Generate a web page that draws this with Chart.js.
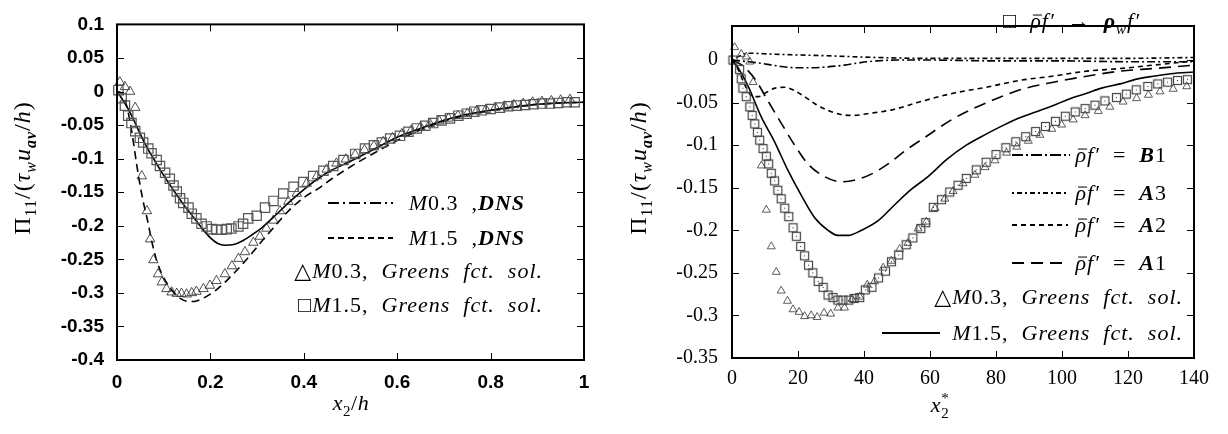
<!DOCTYPE html>
<html>
<head>
<meta charset="utf-8">
<script src="https://cdn.jsdelivr.net/npm/chart.js"></script>
<style>
  html, body { margin: 0; padding: 0; background: #fff; }
  #wrap { position: relative; width: 1228px; height: 434px; background: #fff; }
  canvas { position: absolute; top: 0; }
  #leftChart { left: 0; }
  #rightChart { left: 614px; }
</style>
</head>
<body>
<div id="wrap">
  <canvas id="leftChart" width="614" height="434"></canvas>
  <canvas id="rightChart" width="614" height="434"></canvas>
</div>
<script>
// ---- left panel: Pi_11 vs x2/h ----
const xLeftSolid = [0, 0.01, 0.02, 0.03, 0.045, 0.06, 0.08, 0.1, 0.12, 0.14, 0.16, 0.18, 0.2, 0.215, 0.23, 0.25, 0.27, 0.29, 0.31, 0.34, 0.37, 0.4, 0.43, 0.46, 0.5, 0.55, 0.6, 0.65, 0.7, 0.75, 0.8, 0.85, 0.9, 0.95, 1];
const yLeftSolid = [0, -0.01, -0.021, -0.034, -0.056, -0.078, -0.102, -0.125, -0.146, -0.166, -0.184, -0.202, -0.218, -0.226, -0.229, -0.228, -0.222, -0.213, -0.203, -0.184, -0.164, -0.146, -0.13, -0.117, -0.104, -0.086, -0.068, -0.055, -0.043, -0.034, -0.028, -0.023, -0.019, -0.017, -0.016];

const xLeftDashed = [0, 0.012, 0.02, 0.028, 0.035, 0.042, 0.05, 0.058, 0.066, 0.075, 0.085, 0.095, 0.11, 0.125, 0.14, 0.155, 0.17, 0.19, 0.21, 0.23, 0.25, 0.27, 0.29, 0.31, 0.33, 0.35, 0.37, 0.4, 0.43, 0.46, 0.5, 0.55, 0.6, 0.65, 0.7, 0.75, 0.8, 0.85, 0.9, 0.95, 1];
const yLeftDashed = [0, -0.003, -0.02, -0.045, -0.075, -0.108, -0.142, -0.17, -0.194, -0.225, -0.252, -0.27, -0.289, -0.302, -0.31, -0.313, -0.312, -0.306, -0.297, -0.285, -0.271, -0.256, -0.24, -0.223, -0.207, -0.191, -0.176, -0.158, -0.145, -0.13, -0.112, -0.092, -0.073, -0.057, -0.044, -0.035, -0.028, -0.023, -0.019, -0.017, -0.016];

const xLeftTri = [0.006, 0.017, 0.028, 0.039, 0.053, 0.064, 0.071, 0.078, 0.088, 0.096, 0.106, 0.117, 0.128, 0.138, 0.149, 0.16, 0.17, 0.185, 0.199, 0.213, 0.231, 0.246, 0.26, 0.274, 0.292, 0.306, 0.32, 0.335, 0.349, 0.367, 0.385, 0.406, 0.428, 0.449, 0.47, 0.49, 0.51, 0.53, 0.55, 0.57, 0.59, 0.61, 0.63, 0.65, 0.67, 0.69, 0.71, 0.73, 0.75, 0.77, 0.79, 0.81, 0.83, 0.85, 0.87, 0.89, 0.91, 0.93, 0.95, 0.97];
const yLeftTri = [0.014, 0.007, 0, -0.024, -0.126, -0.178, -0.22, -0.251, -0.272, -0.284, -0.294, -0.299, -0.301, -0.301, -0.302, -0.3, -0.298, -0.294, -0.289, -0.282, -0.272, -0.26, -0.249, -0.239, -0.225, -0.216, -0.204, -0.192, -0.178, -0.164, -0.152, -0.137, -0.126, -0.116, -0.107, -0.101, -0.094, -0.087, -0.081, -0.075, -0.069, -0.063, -0.058, -0.053, -0.048, -0.044, -0.04, -0.036, -0.033, -0.029, -0.027, -0.024, -0.022, -0.02, -0.018, -0.016, -0.015, -0.014, -0.013, -0.012];

const xLeftSq = [0.003, 0.01, 0.017, 0.024, 0.031, 0.039, 0.049, 0.056, 0.067, 0.074, 0.085, 0.092, 0.103, 0.113, 0.121, 0.128, 0.135, 0.142, 0.153, 0.16, 0.17, 0.181, 0.192, 0.203, 0.213, 0.224, 0.235, 0.245, 0.26, 0.27, 0.281, 0.299, 0.317, 0.335, 0.356, 0.378, 0.399, 0.42, 0.442, 0.463, 0.485, 0.51, 0.531, 0.55, 0.567, 0.585, 0.606, 0.624, 0.642, 0.66, 0.677, 0.695, 0.713, 0.731, 0.749, 0.765, 0.781, 0.8, 0.82, 0.838, 0.856, 0.874, 0.892, 0.91, 0.927, 0.945, 0.963, 0.98];
const yLeftSq = [0.002, -0.01, -0.021, -0.036, -0.047, -0.059, -0.069, -0.076, -0.085, -0.092, -0.102, -0.111, -0.121, -0.13, -0.14, -0.149, -0.159, -0.166, -0.173, -0.182, -0.189, -0.197, -0.201, -0.205, -0.206, -0.206, -0.205, -0.204, -0.201, -0.197, -0.189, -0.185, -0.173, -0.163, -0.152, -0.142, -0.135, -0.126, -0.118, -0.111, -0.102, -0.093, -0.085, -0.08, -0.076, -0.07, -0.066, -0.06, -0.055, -0.051, -0.047, -0.043, -0.04, -0.036, -0.033, -0.03, -0.028, -0.026, -0.024, -0.022, -0.021, -0.02, -0.019, -0.018, -0.018, -0.017, -0.016, -0.016];

// ---- right panel: Pi_11 vs x2* ----
const xRightSolid = [0, 2, 4.8, 8.9, 12.9, 17, 21, 25, 29.1, 32.1, 35.2, 39.2, 44.2, 49.3, 54.3, 59.4, 65, 71, 77, 82, 87, 92, 97, 102, 107.5, 112, 117.6, 122, 127.6, 133, 140];
const yRightSolid = [0, -0.01, -0.03, -0.067, -0.096, -0.13, -0.159, -0.185, -0.2, -0.206, -0.206, -0.2, -0.189, -0.17, -0.152, -0.137, -0.117, -0.1, -0.087, -0.077, -0.068, -0.061, -0.054, -0.046, -0.039, -0.033, -0.028, -0.023, -0.019, -0.016, -0.014];

const xA1 = [0, 3, 6.9, 10.9, 14.9, 19, 23, 28.1, 33.1, 37.3, 42.2, 47.3, 52.3, 58.4, 67, 77.2, 87.3, 97.4, 107.5, 117.6, 127.6, 140];
const yA1 = [0, -0.006, -0.022, -0.048, -0.074, -0.1, -0.122, -0.137, -0.143, -0.141, -0.134, -0.122, -0.107, -0.091, -0.069, -0.05, -0.035, -0.026, -0.019, -0.013, -0.01, -0.006];

const xA2 = [0, 2, 4, 6, 8, 10, 13, 16, 19, 22, 25, 29, 33, 37, 41, 49, 57, 67, 77, 87, 97, 107.5, 117.6, 127.6, 140];
const yA2 = [0, -0.012, -0.03, -0.042, -0.043, -0.039, -0.033, -0.032, -0.036, -0.043, -0.051, -0.059, -0.064, -0.065, -0.063, -0.058, -0.049, -0.039, -0.032, -0.024, -0.019, -0.013, -0.01, -0.006, -0.001];

const xA3 = [0, 3, 5, 12, 20, 29, 44, 58, 80, 100, 120, 140];
const yA3 = [0, 0.006, 0.008, 0.007, 0.006, 0.005, 0.003, 0.002, 0.002, 0.002, 0.002, 0.003];

const xB1 = [0, 5, 9, 14, 19, 24, 29, 34, 39, 44, 50, 60, 80, 100, 120, 140];
const yB1 = [0, -0.002, -0.004, -0.007, -0.009, -0.009, -0.008, -0.006, -0.003, -0.001, 0, 0, -0.001, -0.001, -0.002, -0.002];

const xRightTri = [0.8, 2.8, 4.3, 5.4, 6.4, 8.9, 10.4, 11.9, 13.4, 14.9, 16.8, 18.5, 20.3, 22, 24, 25.8, 27.9, 29.9, 32.1, 34.1, 36.4, 38.7, 41, 43.2, 45.8, 48.3, 50.8, 53.3, 56.4, 58.9, 61.5, 64.5, 67, 70, 73.6, 76.7, 79.7, 83.2, 86.3, 89.8, 93.3, 96.9, 99.9, 103.4, 107, 111, 114.5, 118.5, 122.6, 126.2, 129.7, 133.7, 137.8];
const yRightTri = [0.015, 0.007, 0.004, -0.002, -0.026, -0.124, -0.176, -0.219, -0.249, -0.271, -0.283, -0.293, -0.296, -0.301, -0.3, -0.302, -0.297, -0.298, -0.291, -0.291, -0.281, -0.278, -0.264, -0.26, -0.244, -0.236, -0.222, -0.215, -0.198, -0.19, -0.174, -0.163, -0.154, -0.145, -0.135, -0.126, -0.118, -0.109, -0.102, -0.095, -0.088, -0.081, -0.076, -0.07, -0.065, -0.06, -0.055, -0.049, -0.045, -0.041, -0.037, -0.034, -0.031];

const xRightSq = [0.3, 2.3, 2.8, 3.3, 4.3, 5.4, 6.1, 6.9, 7.7, 8.4, 9.4, 10.4, 11.1, 11.9, 12.9, 13.9, 14.9, 16, 17.2, 18.5, 19.5, 20.8, 22, 23.2, 24.5, 26.1, 27.6, 29.1, 30.6, 32.1, 33.6, 35.4, 37, 38.7, 40.4, 42.4, 44.4, 46.5, 48.3, 50.5, 52.8, 54.8, 57.2, 58.7, 61, 63.5, 66, 68.5, 71, 74, 77, 80, 83, 86, 89, 92, 95, 98, 101, 104, 107, 110, 113, 116.5, 119.5, 122.5, 126, 129, 132, 135, 138];
const yRightSq = [0, -0.011, -0.022, -0.033, -0.043, -0.055, -0.065, -0.075, -0.085, -0.094, -0.104, -0.113, -0.122, -0.133, -0.142, -0.153, -0.163, -0.174, -0.184, -0.197, -0.207, -0.219, -0.23, -0.241, -0.25, -0.26, -0.267, -0.276, -0.279, -0.282, -0.282, -0.282, -0.28, -0.279, -0.27, -0.267, -0.256, -0.248, -0.237, -0.229, -0.217, -0.209, -0.198, -0.191, -0.173, -0.164, -0.155, -0.147, -0.139, -0.129, -0.12, -0.111, -0.103, -0.096, -0.09, -0.084, -0.078, -0.072, -0.066, -0.061, -0.057, -0.053, -0.048, -0.044, -0.04, -0.035, -0.031, -0.028, -0.026, -0.024, -0.023];

const xTicksLeft = [0, 0.2, 0.4, 0.6, 0.8, 1];
const yTicksLeft = [-0.4, -0.35, -0.3, -0.25, -0.2, -0.15, -0.1, -0.05, 0, 0.05, 0.1];
const xTicksRight = [0, 20, 40, 60, 80, 100, 120, 140];
const yTicksRight = [-0.35, -0.3, -0.25, -0.2, -0.15, -0.1, -0.05, 0];

const SERIF = "'Liberation Serif', 'DejaVu Serif', serif";
const SANS = "'Liberation Sans', Arial, sans-serif";

function pts(xs, ys) {
    return xs.map((x, i) => ({ x: x, y: ys[i] }));
}

function line(xs, ys, dash, w) {
    return {
        data: pts(xs, ys), showLine: true, borderColor: '#000', borderWidth: w || 1.5,
        borderDash: dash || [], pointRadius: 0, cubicInterpolationMode: 'monotone', fill: false
    };
}

function marks(xs, ys, style, r, color, bw) {
    return {
        data: pts(xs, ys), showLine: false, pointStyle: style, pointRadius: r,
        pointBorderColor: color, pointBackgroundColor: 'rgba(0,0,0,0)', pointBorderWidth: bw,
        borderColor: color, backgroundColor: 'rgba(0,0,0,0)', clip: false
    };
}

// hollow square with a dot in the middle, used on the right panel
function dotSquare() {
    const c = document.createElement('canvas');
    c.width = 11; c.height = 11;
    const g = c.getContext('2d');
    g.strokeStyle = '#444';
    g.lineWidth = 1.2;
    g.strokeRect(1.5, 1.5, 8, 8);
    g.fillStyle = '#222';
    g.fillRect(5, 5, 1, 1);
    return c;
}

// text runs: [text, style]  i=italic b=bold _=sub ^=sup 0=no advance m=bar over
function segFont(s, size) {
    const small = s.includes('_') || s.includes('^');
    return (s.includes('i') ? 'italic ' : '') + (s.includes('b') ? 'bold ' : '') +
        (small ? Math.round(size * 0.68) : size) + 'px ' + SERIF;
}

function drawRich(ctx, segs, x, y, size, align, ls) {
    ctx.letterSpacing = (ls || 0) + 'px';
    let w = 0;
    segs.forEach(([t, s]) => {
        ctx.font = segFont(s, size);
        if (!s.includes('0')) w += ctx.measureText(t).width;
    });
    let cx = align === 'right' ? x - w : align === 'center' ? x - w / 2 : x;
    ctx.textAlign = 'left';
    ctx.textBaseline = 'alphabetic';
    ctx.fillStyle = '#000';
    ctx.strokeStyle = '#000';
    const base = y + size * 0.33;
    segs.forEach(([t, s]) => {
        ctx.font = segFont(s, size);
        const dy = s.includes('_') ? size * 0.25 : s.includes('^') ? -size * 0.42 : 0;
        ctx.fillText(t, cx, base + dy);
        const tw = ctx.measureText(t).width;
        if (s.includes('m')) {
            ctx.lineWidth = 1;
            ctx.setLineDash([]);
            ctx.beginPath();
            ctx.moveTo(cx + size * 0.12, base - size * 0.6);
            ctx.lineTo(cx + tw - (ls || 0) + size * 0.05, base - size * 0.6);
            ctx.stroke();
        }
        if (!s.includes('0')) cx += tw;
    });
    ctx.letterSpacing = '0px';
}

const yTitleSegs = [['Π', ''], ['11', '_'], ['/(', ''], ['τ', 'i'], ['w', 'i_'], ['u', 'i'], ['av', 'bi_'], ['/', ''], ['h', 'i'], [')', '']];

const framePlugin = {
    id: 'frame',
    afterDraw(chart, args, o) {
        const ctx = chart.ctx;
        const a = chart.chartArea;
        const sx = chart.scales.x, sy = chart.scales.y;
        ctx.save();
        // inward tick marks on all four sides
        ctx.strokeStyle = '#000';
        ctx.lineWidth = 1;
        ctx.beginPath();
        sx.ticks.forEach(t => {
            const px = Math.round(sx.getPixelForValue(t.value)) + 0.5;
            ctx.moveTo(px, a.bottom); ctx.lineTo(px, a.bottom - 7);
            ctx.moveTo(px, a.top); ctx.lineTo(px, a.top + 7);
        });
        sy.ticks.forEach(t => {
            const py = Math.round(sy.getPixelForValue(t.value)) + 0.5;
            ctx.moveTo(a.left, py); ctx.lineTo(a.left + 7, py);
            ctx.moveTo(a.right, py); ctx.lineTo(a.right - 7, py);
        });
        ctx.stroke();
        ctx.lineWidth = 2;
        ctx.strokeRect(a.left, a.top, a.right - a.left, a.bottom - a.top);

        // axis titles
        drawRich(ctx, o.xTitle, o.xTitleAt[0], o.xTitleAt[1], 22, 'center', 0.5);
        ctx.save();
        ctx.translate(o.yTitleAt[0], o.yTitleAt[1]);
        ctx.rotate(-Math.PI / 2);
        drawRich(ctx, yTitleSegs, 0, 0, 24, 'center', 1);
        ctx.restore();

        // key
        o.key.forEach(k => {
            if (k.dash) {
                ctx.setLineDash(k.dash);
                ctx.lineWidth = 2;
                ctx.beginPath();
                ctx.moveTo(k.x0, k.y); ctx.lineTo(k.x1, k.y);
                ctx.stroke();
                ctx.setLineDash([]);
            }
            drawRich(ctx, k.segs, k.right, k.y, 22, 'right', 1);
        });
        ctx.restore();
    }
};

function tickFmt(v) {
    return String(Math.round(v * 100) / 100);
}

function makeChart(id, datasets, xr, yr, xTicks, yTicks, tickFont, pad, yWidth, xHeight, xPad, yPad, frame) {
    return new Chart(document.getElementById(id), {
        type: 'scatter',
        data: { datasets: datasets },
        options: {
            responsive: false,
            animation: false,
            devicePixelRatio: 1,
            layout: { autoPadding: false, padding: pad },
            plugins: { legend: { display: false }, tooltip: { enabled: false }, frame: frame },
            scales: {
                x: {
                    type: 'linear', min: xr[0], max: xr[1],
                    grid: { display: false, drawTicks: false }, border: { display: false },
                    afterBuildTicks: s => { s.ticks = xTicks.map(v => ({ value: v })); },
                    afterFit: s => { s.height = xHeight; },
                    ticks: { color: '#000', font: tickFont, padding: xPad, maxRotation: 0, callback: tickFmt }
                },
                y: {
                    type: 'linear', min: yr[0], max: yr[1],
                    grid: { display: false, drawTicks: false }, border: { display: false },
                    afterBuildTicks: s => { s.ticks = yTicks.map(v => ({ value: v })); },
                    afterFit: s => { s.width = yWidth; },
                    ticks: { color: '#000', font: tickFont, padding: yPad, callback: tickFmt }
                }
            }
        },
        plugins: [framePlugin]
    });
}

makeChart('leftChart', [
    marks(xLeftSq, yLeftSq, 'rect', 6.6, '#555', 1.2),
    marks(xLeftTri, yLeftTri, 'triangle', 5.5, '#222', 0.8),
    line(xLeftSolid, yLeftSolid, [], 1.6),
    line(xLeftDashed, yLeftDashed, [8, 5], 1.6)
], [0, 1], [-0.4, 0.1], xTicksLeft, yTicksLeft,
    { family: SANS, size: 19, weight: 'bold' },
    { left: 0, right: 30, top: 8, bottom: 0 }, 117, 74, 11, 13, {
        xTitle: [['x', 'i'], ['2', '_'], ['/', ''], ['h', 'i']],
        xTitleAt: [351, 403],
        yTitleAt: [22, 168],
        key: [
            { y: 203, x0: 328, x1: 393, dash: [11, 4, 2, 4], right: 525, segs: [['M', 'i'], ['0.3  ,', ''], ['DNS', 'bi']] },
            { y: 238, x0: 328, x1: 393, dash: [6, 4], right: 525, segs: [['M', 'i'], ['1.5  ,', ''], ['DNS', 'bi']] },
            { y: 271, right: 543, segs: [['△', ''], ['M', 'i'], ['0.3,  ', ''], ['Greens  fct.  sol.', 'i']] },
            { y: 305, right: 543, segs: [['□', ''], ['M', 'i'], ['1.5,  ', ''], ['Greens  fct.  sol.', 'i']] }
        ]
    });

makeChart('rightChart', [
    marks(xRightSq, yRightSq, dotSquare(), 5, '#444', 1),
    marks(xRightTri, yRightTri, 'triangle', 4.6, '#333', 0.8),
    line(xRightSolid, yRightSolid, [], 1.6),
    line(xA1, yA1, [12, 7], 1.6),
    line(xA2, yA2, [5, 4], 1.6),
    line(xA3, yA3, [2, 3, 5, 3], 1.6),
    line(xB1, yB1, [8, 3, 2, 3], 1.6)
], [0, 140], [-0.35, 0.04], xTicksRight, yTicksRight,
    { family: SERIF, size: 20 },
    { left: 0, right: 34, top: 7, bottom: 0 }, 118, 76, 9, 14, {
        xTitle: [['x', 'i'], ['*', '^0'], ['2', '_']],
        xTitleAt: [326, 405],
        yTitleAt: [24, 168],
        key: [
            { y: 21, right: 526, segs: [['□  ', ''], ['ρ', 'im'], ['f′', 'i'], ['  →  ', ''], ['ρ', 'bi'], ['w', 'i_'], ['f′', 'i']] },
            { y: 155, x0: 398, x1: 456, dash: [11, 3, 2, 3], right: 553, segs: [['ρ', 'im'], ['f′', 'i'], ['  =  ', ''], ['B', 'bi'], ['1', '']] },
            { y: 193, x0: 398, x1: 454, dash: [2, 3, 5, 3], right: 553, segs: [['ρ', 'im'], ['f′', 'i'], ['  =  ', ''], ['A', 'bi'], ['3', '']] },
            { y: 225, x0: 398, x1: 454, dash: [5, 4], right: 553, segs: [['ρ', 'im'], ['f′', 'i'], ['  =  ', ''], ['A', 'bi'], ['2', '']] },
            { y: 263, x0: 398, x1: 454, dash: [12, 7], right: 553, segs: [['ρ', 'im'], ['f′', 'i'], ['  =  ', ''], ['A', 'bi'], ['1', '']] },
            { y: 297, right: 569, segs: [['△', ''], ['M', 'i'], ['0.3,  ', ''], ['Greens  fct.  sol.', 'i']] },
            { y: 333, x0: 268, x1: 326, dash: [], right: 569, segs: [['M', 'i'], ['1.5,  ', ''], ['Greens  fct.  sol.', 'i']] }
        ]
    });
</script>
</body>
</html>
